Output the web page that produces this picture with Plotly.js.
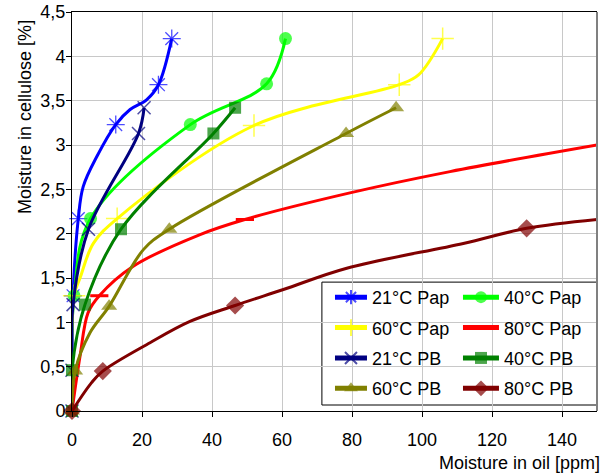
<!DOCTYPE html>
<html>
<head>
<meta charset="utf-8">
<script src="https://cdn.plot.ly/plotly-3.0.1.min.js"></script>
<style>html,body{margin:0;padding:0;background:#fff;}#chart{width:607px;height:475px;}</style>
</head>
<body>
<div id="chart"></div>
<script>
// ---- Data ----
const seriesNames = ["21°C Pap", "40°C Pap", "60°C Pap", "80°C Pap", "21°C PB", "40°C PB", "60°C PB", "80°C PB"];

// x = moisture in oil [ppm], y = moisture in cellulose [%]; mark = measured point (marker shown)
const pap21X = [0, 0.3, 1.8, 3.2, 7.1, 12.5, 16.6, 21.3, 24.7, 28.5];
const pap21Y = [0, 1.30, 2.17, 2.53, 2.87, 3.23, 3.40, 3.51, 3.68, 4.20];
const pap21Mark = [0, 1, 1, 0, 0, 1, 0, 0, 1, 1];

const pap40X = [0, 0.6, 5.3, 33.8, 55.6, 61.0];
const pap40Y = [0, 1.30, 2.17, 3.23, 3.69, 4.20];
const pap40Mark = [0, 1, 1, 1, 1, 1];

const pap60X = [0, 0.6, 2.3, 6.1, 12.9, 52.0, 93.5, 99.0, 105.9];
const pap60Y = [0, 1.30, 1.50, 1.89, 2.17, 3.22, 3.68, 3.79, 4.20];
const pap60Mark = [0, 1, 0, 0, 1, 1, 1, 0, 1];

const pap80X = [0, 2.3, 4.6, 7.8, 17.4, 36.6, 49.4, 79.4, 108.0, 150.0];
const pap80Y = [0, 0.62, 1.11, 1.30, 1.63, 1.99, 2.16, 2.46, 2.70, 3.00];
const pap80Mark = [0, 0, 0, 1, 0, 0, 1, 0, 0, 0];

const pb21X = [0, 0, 0.3, 4.7, 19.0, 20.6];
const pb21Y = [0, 0.46, 1.20, 2.05, 3.13, 3.42];
const pb21Mark = [1, 1, 1, 1, 1, 1];

const pb40X = [0, 0, 3.7, 14.0, 40.4, 46.6];
const pb40Y = [0, 0.46, 1.20, 2.05, 3.13, 3.42];
const pb40Mark = [1, 1, 1, 1, 1, 1];

const pb60X = [0, 0.9, 5.1, 10.6, 20.4, 27.8, 78.3, 92.6];
const pb60Y = [0, 0.45, 0.88, 1.18, 1.82, 2.05, 3.13, 3.42];
const pb60Mark = [1, 1, 0, 1, 0, 1, 1, 1];

const pb80X = [0, 5.6, 8.8, 22.3, 33.7, 46.6, 60.4, 78.5, 111.8, 129.9, 150.0];
const pb80Y = [0, 0.32, 0.45, 0.77, 1.01, 1.19, 1.37, 1.61, 1.89, 2.06, 2.16];
const pb80Mark = [1, 0, 1, 0, 0, 1, 0, 0, 0, 1, 0];

const xTickVals = [0, 20, 40, 60, 80, 100, 120, 140];
const yTickVals = [0, 0.5, 1, 1.5, 2, 2.5, 3, 3.5, 4, 4.5];

// ---- Styles ----
const styles = [
  {color: "#0000FF", symbol: "asterisk-open", size: 15, lw: 1.3, legend: "legend"},
  {color: "#00FF00", symbol: "circle", size: 13, lw: 0, legend: "legend2"},
  {color: "#FFFF00", symbol: "cross-thin-open", size: 16, lw: 1.5, legend: "legend"},
  {color: "#FF0000", symbol: "line-ew-open", size: 13, lw: 3, legend: "legend2"},
  {color: "#000080", symbol: "x-thin-open", size: 13, lw: 1.5, legend: "legend"},
  {color: "#008000", symbol: "square", size: 12, lw: 0, legend: "legend2"},
  {color: "#808000", symbol: "triangle-up", size: 14, lw: 0, legend: "legend"},
  {color: "#800000", symbol: "diamond", size: 14, lw: 0, legend: "legend2"}
];

const allX = [pap21X, pap40X, pap60X, pap80X, pb21X, pb40X, pb60X, pb80X];
const allY = [pap21Y, pap40Y, pap60Y, pap80Y, pb21Y, pb40Y, pb60Y, pb80Y];
const allMark = [pap21Mark, pap40Mark, pap60Mark, pap80Mark, pb21Mark, pb40Mark, pb60Mark, pb80Mark];

const traces = [];
const extra = [];
seriesNames.forEach((name, i) => {
  const s = styles[i];
  if (i === 3) {
    traces.push({
      type: "scatter", mode: "lines", name: name, x: allX[i], y: allY[i],
      line: {color: s.color, width: 3, shape: "spline", smoothing: 1},
      legend: s.legend, legendgroup: name, cliponaxis: false
    });
    extra.push({
      type: "scatter", mode: "markers", showlegend: false,
      x: allX[i].filter((v, k) => allMark[i][k]), y: allY[i].filter((v, k) => allMark[i][k]),
      marker: {symbol: s.symbol, size: s.size, color: s.color, line: {color: s.color, width: s.lw}},
      cliponaxis: false, hoverinfo: "skip"
    });
  } else {
    traces.push({
      type: "scatter", mode: "lines+markers", name: name, x: allX[i], y: allY[i],
      line: {color: s.color, width: 3, shape: "spline", smoothing: 1},
      marker: {symbol: s.symbol, size: allMark[i].map(m => m ? s.size : 0), color: s.color,
               line: {color: s.color, width: s.lw}},
      legend: s.legend, legendgroup: name, cliponaxis: false
    });
  }
});

const font = {family: "Liberation Sans, Arial, sans-serif", size: 18, color: "#000"};
const legendCommon = {
  bgcolor: "rgba(0,0,0,0)", borderwidth: 0, font: font, traceorder: "grouped",
  tracegroupgap: 4, itemsizing: "constant", yanchor: "top", xanchor: "left", orientation: "v"
};

const layout = {
  width: 607, height: 475,
  margin: {l: 72, r: 10, t: 12, b: 64},
  paper_bgcolor: "#fff", plot_bgcolor: "#fff",
  font: font,
  separators: ", ",
  showlegend: true,
  xaxis: {
    range: [0, 150], tickvals: xTickVals, ticks: "outside", ticklen: 5, tickcolor: "#000",
    showline: true, linecolor: "#000", linewidth: 1, mirror: true,
    showgrid: true, gridcolor: "#c8c8c8", gridwidth: 1, zeroline: false,
    tickfont: font, ticklabelstandoff: 7
  },
  yaxis: {
    range: [0, 4.5], tickvals: yTickVals, ticks: "outside", ticklen: 5, tickcolor: "#000",
    showline: true, linecolor: "#000", linewidth: 1,
    showgrid: true, gridcolor: "#c8c8c8", gridwidth: 1, zeroline: false,
    tickfont: font, ticklabelstandoff: -3
  },
  legend: Object.assign({}, legendCommon, {x: 0.4914, y: 0.331, itemwidth: 32}),
  legend2: Object.assign({}, legendCommon, {x: 0.7352, y: 0.331, itemwidth: 36}),
  shapes: [
    {type: "rect", xref: "paper", yref: "paper", x0: 0.476, x1: 1.0, y0: 0.015, y1: 0.323,
     line: {color: "#000", width: 1}, fillcolor: "#fff", layer: "between"},
    {type: "line", xref: "paper", yref: "paper", x0: 1, x1: 1, y0: 0, y1: 1,
     line: {color: "#808080", width: 2}, layer: "above"}
  ],
  annotations: [
    {text: "Moisture in cellulose [%]", xref: "paper", yref: "paper", x: -0.0895, y: 0.737,
     textangle: -90, showarrow: false, xanchor: "center", yanchor: "middle", font: font},
    {text: "Moisture in oil [ppm]", xref: "paper", yref: "paper", x: 1.0095, y: -0.13,
     showarrow: false, xanchor: "right", yanchor: "middle", font: font}
  ]
};

Plotly.newPlot("chart", traces.concat(extra), layout, {staticPlot: true, displayModeBar: false});
</script>
</body>
</html>
